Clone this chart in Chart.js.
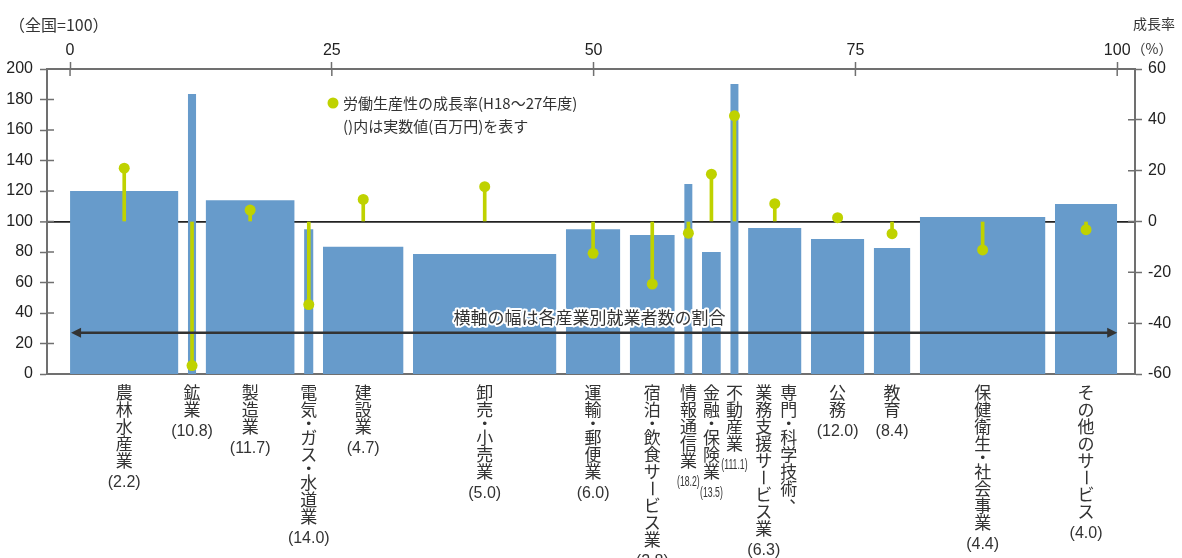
<!DOCTYPE html>
<html lang="ja">
<head>
<meta charset="utf-8">
<script src="https://cdn.jsdelivr.net/npm/chart.js@4.4.1/dist/chart.umd.min.js"></script>
<style>
html, body { margin: 0; padding: 0; background: #fff; }
#wrap { width: 1182px; height: 558px; }
</style>
</head>
<body>
<div id="wrap"><canvas id="myChart" width="1182" height="558"></canvas></div>
<script>
// 産業名（縦書き。\n は列の区切りで、右の列から読む）
const industries = ['農林水産業', '鉱業', '製造業', '電気・ガス・水道業', '建設業', '卸売・小売業', '運輸・郵便業',
    '宿泊・飲食サービス業', '情報通信業', '金融・保険業', '不動産業', '専門・科学技術、\n業務支援サービス業',
    '公務', '教育', '保健衛生・社会事業', 'その他のサービス'];
// 実数値（百万円）
const actualValues = ['2.2', '10.8', '11.7', '14.0', '4.7', '5.0', '6.0', '2.8', '18.2', '13.5', '111.1', '6.3', '12.0', '8.4', '4.4', '4.0'];
// 就業者数の割合（横軸の幅）
const employShare = [10.8, 1.7, 9.4, 1.8, 8.6, 14.6, 6.1, 5.2, 1.7, 2.7, 1.7, 6.0, 6.0, 4.4, 12.9, 6.4];
// 労働生産性（全国=100）
const productivityIndex = [120, 183.6, 114, 95, 83.5, 78.7, 95, 91.1, 124.6, 80, 190.2, 95.7, 88.5, 82.6, 103, 111.5];
// 労働生産性の成長率（H18～27年度, %）
const growthRate = [21, -56.7, 4.5, -32.7, 8.7, 13.7, -12.5, -24.6, -4.6, 18.6, 41.6, 7, 1.5, -4.8, -11.2, -3.2];

const xTicks = [0, 25, 50, 75, 100];
const yTicks = [0, 20, 40, 60, 80, 100, 120, 140, 160, 180, 200];
const y2Ticks = [-60, -40, -20, 0, 20, 40, 60];

const BAR_COLOR = '#679bcb';
const GREEN = '#bfd200';
const AXIS = '#707070';
const TEXT = '#333';
const NUM_FONT = "'Liberation Sans', Arial, sans-serif";
const JP_FONT = "'Noto Sans CJK JP', 'Noto Sans', sans-serif";
const GAP = 0.9;                 // 棒と棒のすき間（横軸の単位）
const narrowValue = [8, 9, 10];  // 実数値を細い字で書く産業
const ARROW_LEVEL = 27;

// 横軸上の区間
let cum = 0;
const segments = employShare.map(w => { const s = cum; cum += w; return [s, cum]; });
const last = segments.length - 1;
const barEdges = segments.map(([s, e], i) => [i === 0 ? s : s + GAP / 2, i === last ? e : e - GAP / 2]);
const barCenters = barEdges.map(([s, e]) => (s + e) / 2);

const barDatasets = barEdges.map(([s, e], i) => ({
    type: 'line', xAxisID: 'x', yAxisID: 'y', order: 3,
    data: [{ x: s, y: productivityIndex[i] }, { x: e, y: productivityIndex[i] }],
    fill: 'origin', backgroundColor: BAR_COLOR, borderColor: BAR_COLOR, borderWidth: 0, pointRadius: 0
}));

function drawColumn(ctx, text, x, top) {
    let y = top;
    for (const ch of text) {
        const adv = ch === '・' ? 11 : 17;
        const cy = y + adv / 2;
        if (ch === 'ー') {
            ctx.save(); ctx.translate(x, cy); ctx.rotate(Math.PI / 2); ctx.fillText(ch, 0, 0); ctx.restore();
        } else if (ch === '、') {
            ctx.fillText(ch, x + 9, cy - 9);
        } else {
            ctx.fillText(ch, x, cy);
        }
        y += adv;
    }
    return y;
}

const decorations = {
    id: 'decorations',
    afterDatasetsDraw(chart) {
        const { ctx, scales } = chart;
        const x0 = scales.x.getPixelForValue(0), x1 = scales.x.getPixelForValue(100);
        const ya = scales.y.getPixelForValue(ARROW_LEVEL);
        ctx.save();
        ctx.strokeStyle = '#333'; ctx.fillStyle = '#333'; ctx.lineWidth = 2.5;
        ctx.beginPath(); ctx.moveTo(x0 + 8, ya); ctx.lineTo(x1 - 8, ya); ctx.stroke();
        ctx.beginPath(); ctx.moveTo(x0 + 1, ya); ctx.lineTo(x0 + 11, ya - 5); ctx.lineTo(x0 + 11, ya + 5); ctx.closePath(); ctx.fill();
        ctx.beginPath(); ctx.moveTo(x1, ya); ctx.lineTo(x1 - 10, ya - 5); ctx.lineTo(x1 - 10, ya + 5); ctx.closePath(); ctx.fill();
        ctx.font = '17px ' + JP_FONT;
        ctx.textAlign = 'center'; ctx.textBaseline = 'middle';
        ctx.lineJoin = 'round'; ctx.lineWidth = 4; ctx.strokeStyle = '#fff';
        const tx = (x0 + x1) / 2 - 4, ty = ya - 15;
        ctx.strokeText('横軸の幅は各産業別就業者数の割合', tx, ty);
        ctx.fillStyle = TEXT;
        ctx.fillText('横軸の幅は各産業別就業者数の割合', tx, ty);
        ctx.restore();
    },
    afterDraw(chart) {
        const { ctx, scales, chartArea: ca } = chart;
        ctx.save();
        // 軸の内側の目盛り
        ctx.strokeStyle = AXIS; ctx.lineWidth = 1.5;
        ctx.beginPath();
        scales.y.ticks.forEach(t => { const p = scales.y.getPixelForValue(t.value); ctx.moveTo(ca.left, p); ctx.lineTo(ca.left + 7, p); });
        scales.y2.ticks.forEach(t => { const p = scales.y2.getPixelForValue(t.value); ctx.moveTo(ca.right - 7, p); ctx.lineTo(ca.right, p); });
        scales.x.ticks.forEach(t => { const p = scales.x.getPixelForValue(t.value); ctx.moveTo(p, ca.top); ctx.lineTo(p, ca.top + 7); });
        ctx.stroke();

        // 産業名
        ctx.fillStyle = TEXT;
        ctx.textAlign = 'center'; ctx.textBaseline = 'middle';
        industries.forEach((name, i) => {
            const cx = scales.x.getPixelForValue(barCenters[i]);
            const cols = name.split('\n');
            let endY = 0, lastX = cx;
            ctx.font = '17px ' + JP_FONT;
            cols.forEach((col, k) => {
                const colX = cx + ((cols.length - 1) / 2 - k) * 25 + (cols.length > 1 ? 1.5 : 0);
                endY = drawColumn(ctx, col, colX, ca.bottom + 10);
                lastX = colX;
            });
            const label = '(' + actualValues[i] + ')';
            if (narrowValue.includes(i)) {
                ctx.font = '15px ' + NUM_FONT;
                ctx.save(); ctx.translate(lastX, endY + 13); ctx.scale(0.58, 1); ctx.fillText(label, 0, 0); ctx.restore();
            } else {
                ctx.font = '16px ' + NUM_FONT;
                ctx.fillText(label, lastX, endY + 14);
            }
        });

        // 単位
        ctx.font = '16px ' + JP_FONT;
        ctx.textAlign = 'left';
        ctx.fillText('（全国=100）', 9, 25);
        ctx.font = '14px ' + JP_FONT;
        ctx.textAlign = 'center';
        ctx.fillText('成長率', 1154, 24);
        ctx.fillText('（%）', 1152, 49);

        // 凡例
        ctx.fillStyle = GREEN;
        ctx.beginPath(); ctx.arc(333, 103, 5.5, 0, Math.PI * 2); ctx.fill();
        ctx.fillStyle = TEXT;
        ctx.font = '15px ' + JP_FONT;
        ctx.textAlign = 'left';
        ctx.fillText('労働生産性の成長率(H18～27年度)', 343, 103);
        ctx.fillText('()内は実数値(百万円)を表す', 343, 126);
        ctx.restore();
    }
};

const ctx = document.getElementById('myChart').getContext('2d');
let myChart = new Chart(ctx, {
    type: 'scatter',
    data: {
        datasets: [
            ...barDatasets,
            {
                type: 'bar', xAxisID: 'x', yAxisID: 'y2', order: 2,
                data: barCenters.map((c, i) => ({ x: c, y: growthRate[i] })),
                backgroundColor: GREEN, barThickness: 3, borderWidth: 0
            },
            {
                type: 'scatter', xAxisID: 'x', yAxisID: 'y2', order: 1,
                data: barCenters.map((c, i) => ({ x: c, y: growthRate[i] })),
                pointRadius: 5.5, pointBackgroundColor: GREEN, pointBorderWidth: 0, pointHoverRadius: 5.5
            }
        ]
    },
    options: {
        responsive: false,
        animation: false,
        events: [],
        layout: { padding: { left: 0, right: 0, top: 0, bottom: 184 } },
        plugins: { legend: { display: false }, tooltip: { enabled: false } },
        scales: {
            x: {
                type: 'linear', position: 'top', min: -2.2, max: 101.7, offset: false,
                afterBuildTicks: s => { s.ticks = xTicks.map(v => ({ value: v })); },
                afterFit: s => { s.height = 69; },
                grid: { offset: false, drawOnChartArea: false, tickLength: 7, tickColor: AXIS, tickWidth: 1.5, color: AXIS },
                border: { color: AXIS, width: 2 },
                ticks: { font: { family: NUM_FONT, size: 16 }, color: '#222', padding: 2, maxRotation: 0, autoSkip: false }
            },
            xb: {
                type: 'linear', position: 'bottom', min: -2.2, max: 101.7, offset: false, display: true,
                afterFit: s => { s.height = 0; },
                grid: { display: false, drawTicks: false, offset: false },
                border: { display: true, color: AXIS, width: 2 },
                ticks: { display: false }
            },
            y: {
                type: 'linear', position: 'left', min: 0, max: 200, z: 1,
                afterBuildTicks: s => { s.ticks = yTicks.map(v => ({ value: v })); },
                afterFit: s => { s.width = 47; },
                grid: {
                    drawOnChartArea: true, tickLength: 7, tickColor: AXIS, tickWidth: 1.5,
                    color: c => (c.tick && c.tick.value === 100) ? '#222' : 'rgba(0,0,0,0)',
                    lineWidth: c => (c.tick && c.tick.value === 100) ? 1.8 : 1
                },
                border: { color: AXIS, width: 2 },
                ticks: { font: { family: NUM_FONT, size: 16 }, color: '#222', padding: 7 }
            },
            y2: {
                type: 'linear', position: 'right', min: -60, max: 60,
                afterBuildTicks: s => { s.ticks = y2Ticks.map(v => ({ value: v })); },
                afterFit: s => { s.width = 47; },
                grid: { drawOnChartArea: false, tickLength: 7, tickColor: AXIS, tickWidth: 1.5, color: AXIS },
                border: { color: AXIS, width: 2 },
                ticks: { font: { family: NUM_FONT, size: 16 }, color: '#222', padding: 6 }
            }
        }
    },
    plugins: [decorations]
});
</script>
</body>
</html>
